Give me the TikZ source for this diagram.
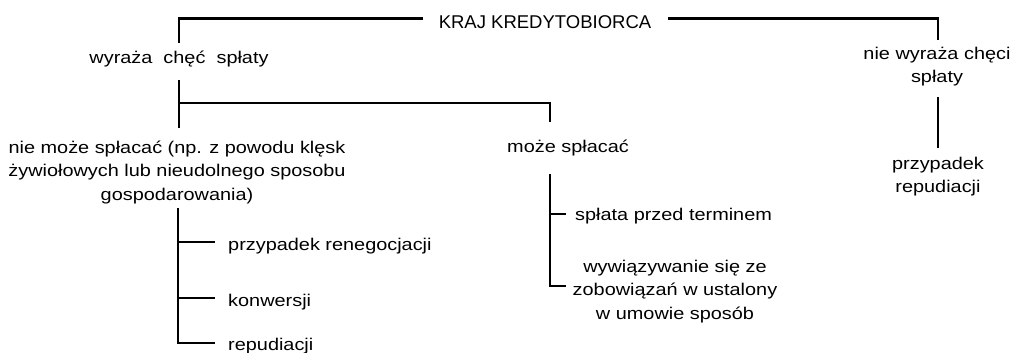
\documentclass[tikz,border=0pt]{standalone}
\usepackage{fontspec}
\setmainfont{Liberation Sans}[FakeStretch=1.17]
\newfontfamily\rootfont{Liberation Sans}
\begin{document}
\begin{tikzpicture}[x=1pt,y=-1pt,
  conn/.style={line width=2.3pt},
  lbl/.style={inner sep=0pt,font=\fontsize{17}{23.5}\selectfont,align=center},
  rootlbl/.style={inner sep=0pt,font=\rootfont\fontsize{18.5}{23}\selectfont}]
\useasboundingbox (0,0) rectangle (1013,353);
% nodes (multi-line nodes: base = baseline of last line)
\node[rootlbl,anchor=base] (root) at (545,28.5) {KRAJ KREDYTOBIORCA};
\node[lbl,anchor=base] (wyr) at (179,64) {wyraża\ \ chęć\ \ spłaty};
\node[lbl,anchor=base] (niewyr) at (937,82.5) {nie wyraża chęci\\spłaty};
\node[lbl,anchor=base] (niemoze) at (177,200) {nie może spłacać (np. z powodu klęsk\\żywiołowych lub nieudolnego sposobu\\gospodarowania)};
\node[lbl,anchor=base] (moze) at (568,153) {może spłacać};
\node[lbl,anchor=base] (przyp) at (938,192.5) {przypadek\\repudiacji};
\node[lbl,anchor=base west] (splata) at (575,220) {spłata przed terminem};
\node[lbl,anchor=base] (wywi) at (675,319) {wywiązywanie się ze\\zobowiązań w ustalony\\w umowie sposób};
\node[lbl,anchor=base west] (reneg) at (228,250) {przypadek renegocjacji};
\node[lbl,anchor=base west] (konw) at (228,306) {konwersji};
\node[lbl,anchor=base west] (repu) at (228,350) {repudiacji};
% junction coordinates
\coordinate (tl1) at (423,18.5);
\coordinate (tl2) at (179,18.5);
\coordinate (tl3) at (179,43);
\coordinate (tr1) at (668,18.5);
\coordinate (tr2) at (938,18.5);
\coordinate (tr3) at (938,40);
\coordinate (w1) at (179,80);
\coordinate (w2) at (179,103);
\coordinate (w3) at (179,128);
\coordinate (w4) at (550,103);
\coordinate (w5) at (550,122);
\coordinate (m1) at (550,174);
\coordinate (m2) at (550,286);
\coordinate (m3) at (566,286);
\coordinate (m4) at (550,214);
\coordinate (m5) at (566,214);
\coordinate (r1) at (938,97);
\coordinate (r2) at (938,148);
\coordinate (n1) at (178,208);
\coordinate (n2) at (178,343);
\coordinate (n3) at (215,343);
\coordinate (n4) at (178,242);
\coordinate (n5) at (215,242);
\coordinate (n6) at (178,298);
\coordinate (n7) at (215,298);
% connectors
\draw[conn] (tl1) -- (tl2) -- (tl3);
\draw[conn] (tr1) -- (tr2) -- (tr3);
\draw[conn] (w1) -- (w3);
\draw[conn] (w2) -- (w4) -- (w5);
\draw[conn] (m1) -- (m2) -- (m3);
\draw[conn] (m4) -- (m5);
\draw[conn] (r1) -- (r2);
\draw[conn] (n1) -- (n2) -- (n3);
\draw[conn] (n4) -- (n5);
\draw[conn] (n6) -- (n7);
\end{tikzpicture}
\end{document}
